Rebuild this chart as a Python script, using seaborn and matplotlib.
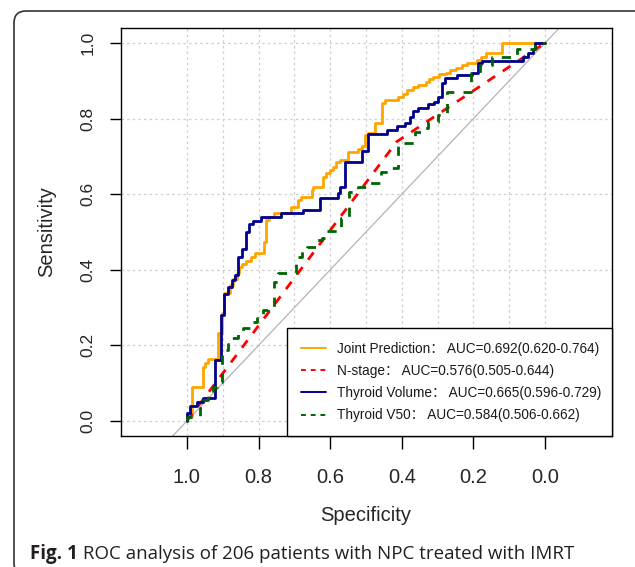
import numpy as np
import matplotlib
matplotlib.use("Agg")
import matplotlib.pyplot as plt
import seaborn as sns
from matplotlib.patches import FancyBboxPatch
from matplotlib.transforms import IdentityTransform
from matplotlib.font_manager import FontProperties

# step ROC curves:
# *_spec = specificity where a vertical step happens, *_sens = sensitivity level after it
joint_spec = [1.0, 0.987, 0.956, 0.949, 0.940, 0.912, 0.903, 0.896, 0.880, 0.871,
              0.861, 0.854, 0.845, 0.834, 0.822, 0.810, 0.785, 0.779, 0.770, 0.757,
              0.708, 0.689, 0.682, 0.652, 0.647, 0.621, 0.612, 0.601, 0.591, 0.584,
              0.573, 0.551, 0.521, 0.512, 0.503, 0.493, 0.475, 0.456, 0.447, 0.410,
              0.396, 0.385, 0.368, 0.356, 0.332, 0.323, 0.312, 0.295, 0.277, 0.265,
              0.249, 0.233, 0.219, 0.189, 0.179, 0.165, 0.119, 0.0]
joint_sens = [0.0, 0.012, 0.091, 0.144, 0.154, 0.163, 0.232, 0.285, 0.338, 0.360,
              0.377, 0.391, 0.407, 0.416, 0.424, 0.435, 0.444, 0.474, 0.532, 0.541,
              0.549, 0.565, 0.585, 0.592, 0.611, 0.620, 0.645, 0.655, 0.664, 0.673,
              0.684, 0.690, 0.713, 0.720, 0.728, 0.757, 0.763, 0.789, 0.840, 0.849,
              0.856, 0.865, 0.877, 0.883, 0.889, 0.896, 0.904, 0.911, 0.917, 0.922,
              0.929, 0.935, 0.942, 0.948, 0.955, 0.964, 0.973, 1.0]

nstage_spec = [1.0, 0.414, 0.0]
nstage_sens = [0.0, 0.739, 1.0]

volume_spec = [1.0, 0.992, 0.971, 0.954, 0.922, 0.905, 0.896, 0.885, 0.875, 0.866,
               0.857, 0.845, 0.836, 0.826, 0.815, 0.793, 0.736, 0.677, 0.628, 0.577,
               0.573, 0.559, 0.512, 0.493, 0.442, 0.414, 0.391, 0.377, 0.370, 0.356,
               0.326, 0.310, 0.298, 0.289, 0.279, 0.247, 0.205, 0.186, 0.177, 0.061,
               0.047, 0.033, 0.028, 0.0]
volume_sens = [0.0, 0.022, 0.040, 0.051, 0.060, 0.161, 0.280, 0.336, 0.355, 0.373,
               0.386, 0.433, 0.454, 0.501, 0.521, 0.530, 0.539, 0.549, 0.558, 0.589,
               0.602, 0.620, 0.686, 0.715, 0.759, 0.770, 0.780, 0.789, 0.805, 0.821,
               0.829, 0.838, 0.845, 0.858, 0.895, 0.907, 0.915, 0.922, 0.946, 0.952,
               0.962, 0.973, 0.983, 1.0]

v50_spec = [1.0, 0.964, 0.954, 0.940, 0.926, 0.917, 0.903, 0.885, 0.875, 0.857,
            0.843, 0.819, 0.805, 0.787, 0.773, 0.757, 0.745, 0.696, 0.680, 0.666,
            0.638, 0.624, 0.615, 0.571, 0.547, 0.521, 0.493, 0.459, 0.433, 0.410,
            0.363, 0.345, 0.326, 0.298, 0.273, 0.208, 0.182, 0.149, 0.079, 0.028, 0.0]
v50_sens = [0.0, 0.010, 0.034, 0.056, 0.073, 0.091, 0.104, 0.188, 0.205, 0.219,
            0.236, 0.245, 0.263, 0.272, 0.294, 0.302, 0.369, 0.392, 0.435, 0.454,
            0.461, 0.479, 0.483, 0.503, 0.536, 0.607, 0.620, 0.629, 0.660, 0.669,
            0.735, 0.765, 0.774, 0.792, 0.810, 0.871, 0.920, 0.942, 0.964, 0.983, 1.0]

labels = ["Joint Prediction： AUC=0.692(0.620-0.764)",
          "N-stage： AUC=0.576(0.505-0.644)",
          "Thyroid Volume： AUC=0.665(0.596-0.729)",
          "Thyroid V50： AUC=0.584(0.506-0.662)"]
colors = ["#FFA500", "#FF0000", "#00008B", "#006400"]

x_ticks = [1.0, 0.8, 0.6, 0.4, 0.2, 0.0]
y_ticks = [0.0, 0.2, 0.4, 0.6, 0.8, 1.0]
grid_x = [0.0, 0.1, 0.2, 0.3, 0.4, 0.5, 0.6, 0.7, 0.8, 0.9, 1.0]

caption_bold = "Fig. 1"
caption_rest = " ROC analysis of 206 patients with NPC treated with IMRT"

sns.set_style("ticks")
plt.rcParams["font.family"] = ["Liberation Sans", "Noto Sans CJK SC"]
plt.rcParams["axes.edgecolor"] = "black"
plt.rcParams["text.color"] = "#1a1a1a"

fig = plt.figure(figsize=(6.35, 5.67), dpi=100)
ax = fig.add_axes([0.1906, 0.2310, 0.7732, 0.7196])

ax.set_xlim(1.184, -0.187)
ax.set_ylim(-0.0397, 1.0397)

# dotted grid like pROC grid=TRUE
ax.set_xticks(grid_x, minor=True)
ax.grid(True, which="both", axis="x", color="#CFCFCF", lw=0.9, ls=(0, (2, 2.5)))
ax.grid(True, which="major", axis="y", color="#CFCFCF", lw=0.9, ls=(0, (2, 2.5)))
ax.set_axisbelow(True)
ax.tick_params(which="minor", length=0)

ax.axline((1, 0), (0, 1), color="#B4B4B4", lw=0.9, zorder=1.5)

dash = (0, (3.3, 3.3))
handles = []
sns.lineplot(x=joint_spec, y=joint_sens, sort=False, estimator=None, ax=ax,
             color=colors[0], lw=2, drawstyle="steps-pre")
handles.append(ax.lines[-1])
sns.lineplot(x=nstage_spec, y=nstage_sens, sort=False, estimator=None, ax=ax,
             color=colors[1], lw=2, linestyle=dash)
handles.append(ax.lines[-1])
sns.lineplot(x=volume_spec, y=volume_sens, sort=False, estimator=None, ax=ax,
             color=colors[2], lw=2, drawstyle="steps-pre")
handles.append(ax.lines[-1])
sns.lineplot(x=v50_spec, y=v50_sens, sort=False, estimator=None, ax=ax,
             color=colors[3], lw=2, drawstyle="steps-pre", linestyle=dash)
handles.append(ax.lines[-1])

x0 = (287 - 121) / 491
leg = ax.legend(handles, labels, loc="lower left", bbox_to_anchor=(x0, 0, 1 - x0, 0.3),
                mode="expand", borderaxespad=0, fancybox=False, edgecolor="black",
                framealpha=1, prop=FontProperties(family=["Liberation Sans", "Noto Sans CJK SC"], size=9.8),
                handlelength=1.85, handletextpad=0.85, borderpad=1.0, labelspacing=0.6)
leg.get_frame().set_linewidth(1.0)
for i, line in enumerate(leg.get_lines()):
    line.set_linewidth(1.4)
    if i in (1, 3):
        line.set_dashes((2.5, 2.5))

ax.set_xticks(x_ticks)
ax.set_xticklabels([f"{t:.1f}" for t in x_ticks])
ax.set_yticks(y_ticks)
ax.set_yticklabels([f"{t:.1f}" for t in y_ticks])
ax.tick_params(axis="x", direction="out", length=9, width=1, labelsize=14.5, pad=14, color="black")
ax.tick_params(axis="y", direction="out", length=8, width=1, labelsize=12.5, pad=10.5,
               labelrotation=90, color="black")
for lab in ax.get_yticklabels():
    lab.set_va("center")
for s in ax.spines.values():
    s.set_linewidth(1.0)

ax.set_xlabel("Specificity", fontsize=14.5)
ax.xaxis.label.set_va("center")
ax.xaxis.set_label_coords(0.498, -0.1936)
ax.set_ylabel("Sensitivity", fontsize=14.5, va="center")
ax.yaxis.set_label_coords(-0.1507, 0.5)

# caption and rounded frame
renderer = fig.canvas.get_renderer()
t1 = fig.text(30 / 635, 8 / 567, caption_bold, fontsize=13.5, fontweight="bold",
              family="Open Sans", va="baseline", color="#231F20")
bb = t1.get_window_extent(renderer)
fig.text(bb.x1 / 635, 8 / 567, caption_rest, fontsize=13.5, family="Open Sans",
         va="baseline", color="#231F20")

frame = FancyBboxPatch((14, -8), 660, 564, boxstyle="round,pad=0,rounding_size=12",
                       transform=IdentityTransform(), fill=False, ec="#333333", lw=1.2)
fig.add_artist(frame)

fig.savefig("out.png", dpi=100)
